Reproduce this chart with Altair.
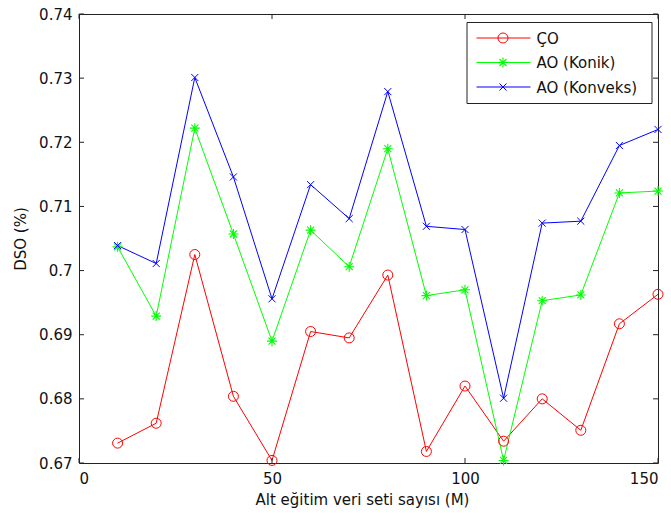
import altair as alt
import pandas as pd

# ---- data ----
m_values = [10, 20, 30, 40, 50, 60, 70, 80, 90, 100, 110, 120, 130, 140, 150]
co_values = [0.6731, 0.6762, 0.7025, 0.6804, 0.6704, 0.6905, 0.6895, 0.6993,
             0.6718, 0.6820, 0.6734, 0.6800, 0.6751, 0.6917, 0.6963]
konik_values = [0.7037, 0.6929, 0.7222, 0.7057, 0.6890, 0.7063, 0.7006, 0.7190,
                0.6961, 0.6970, 0.6704, 0.6953, 0.6962, 0.7121, 0.7124]
konveks_values = [0.7039, 0.7011, 0.7301, 0.7146, 0.6956, 0.7134, 0.7081, 0.7279,
                  0.7069, 0.7064, 0.6801, 0.7074, 0.7077, 0.7195, 0.7220]
series_names = ["ÇO", "AO (Konik)", "AO (Konveks)"]
series_colors = ["#FF0000", "#00FF00", "#0000FF"]
x_ticks = [0, 50, 100, 150]
y_ticks = [0.67, 0.68, 0.69, 0.70, 0.71, 0.72, 0.73, 0.74]
x_title = "Alt eğitim veri seti sayısı (M)"
y_title = "DSO (%)"

# ---- layout ----
W, H = 579, 449
FONT = "DejaVu Sans"
AXC = "#222222"

ASTERISK = "M0,-1L0,1M-1,0L1,0M-0.7,-0.7L0.7,0.7M-0.7,0.7L0.7,-0.7"
XMARK = "M-1,-1L1,1M-1,1L1,-1"
marker_shapes = ["circle", ASTERISK, XMARK]
marker_sizes = [100, 100, 50]
marker_widths = [1, 1.1, 1]

rows = []
for name, vals in zip(series_names, [co_values, konik_values, konveks_values]):
    for m, v in zip(m_values, vals):
        rows.append({"M": m, "DSO": v, "series": name})
df = pd.DataFrame(rows)

xscale = alt.Scale(domain=[0, 150], nice=False, zero=False)
yscale = alt.Scale(domain=[0.67, 0.74], nice=False, zero=False)

xaxis = alt.Axis(values=x_ticks, ticks=False, grid=False, domain=False,
                 labelPadding=8, labelFontSize=15, labelColor="#111",
                 title=x_title, titleFontSize=15, titleFontWeight="normal",
                 titleColor="#111", titleBaseline="alphabetic", titleY=41,
                 titleX=283)
yaxis = alt.Axis(values=y_ticks, ticks=False, grid=False, domain=False,
                 labelPadding=7, labelFontSize=15, labelColor="#111",
                 format=".2~f",
                 title=y_title, titleFontSize=15, titleFontWeight="normal",
                 titleColor="#111", titleBaseline="middle", titleX=-59,
                 titleAngle=270)

base = alt.Chart(df)
layers = []
for i, name in enumerate(series_names):
    sub = base.transform_filter(alt.datum.series == name)
    layers.append(
        sub.mark_line(color=series_colors[i], strokeWidth=1).encode(
            x=alt.X("M:Q", scale=xscale, axis=xaxis),
            y=alt.Y("DSO:Q", scale=yscale, axis=yaxis),
        )
    )
for i, name in enumerate(series_names):
    sub = base.transform_filter(alt.datum.series == name)
    layers.append(
        sub.mark_point(shape=marker_shapes[i], size=marker_sizes[i], filled=False,
                       stroke=series_colors[i], strokeWidth=marker_widths[i],
                       opacity=1, clip=False).encode(
            x=alt.X("M:Q", scale=xscale),
            y=alt.Y("DSO:Q", scale=yscale),
        )
    )

# inside ticks (MATLAB style box)
xt = alt.Chart(pd.DataFrame({"t": x_ticks}))
yt = alt.Chart(pd.DataFrame({"t": y_ticks}))
TL = 5
layers += [
    xt.mark_rule(color=AXC, strokeWidth=1).encode(
        x=alt.X("t:Q", scale=xscale), y=alt.value(H - TL), y2=alt.value(H)),
    xt.mark_rule(color=AXC, strokeWidth=1).encode(
        x=alt.X("t:Q", scale=xscale), y=alt.value(0), y2=alt.value(TL)),
    yt.mark_rule(color=AXC, strokeWidth=1).encode(
        y=alt.Y("t:Q", scale=yscale), x=alt.value(0), x2=alt.value(TL)),
    yt.mark_rule(color=AXC, strokeWidth=1).encode(
        y=alt.Y("t:Q", scale=yscale), x=alt.value(W - TL), x2=alt.value(W)),
]

# legend box
one = alt.Chart(alt.Data(values=[{}]))
LX0, LX1, LY0, LY1 = 388, 573, 8.5, 89.5
layers.append(
    one.mark_rect(fill="white", stroke=AXC, strokeWidth=1).encode(
        x=alt.value(LX0), x2=alt.value(LX1), y=alt.value(LY0), y2=alt.value(LY1))
)
row_y = [24, 48.5, 73]
for i, name in enumerate(series_names):
    ry = row_y[i]
    layers.append(
        one.mark_rule(color=series_colors[i], strokeWidth=1).encode(
            x=alt.value(397.5), x2=alt.value(451.5), y=alt.value(ry))
    )
    layers.append(
        one.mark_point(shape=marker_shapes[i], size=marker_sizes[i], filled=False,
                       stroke=series_colors[i], strokeWidth=marker_widths[i],
                       opacity=1).encode(
            x=alt.value(424), y=alt.value(ry))
    )
    layers.append(
        one.mark_text(text=name, align="left", baseline="middle", font=FONT,
                      fontSize=15, color="#111").encode(
            x=alt.value(457.5), y=alt.value(ry + 0.5))
    )

chart = alt.layer(*layers).properties(
    width=W, height=H,
    autosize=alt.AutoSizeParams(type="none"),
    padding={"left": 79, "top": 14, "right": 13, "bottom": 50},
    background="white",
).configure(font=FONT).configure_view(stroke=AXC, strokeWidth=1)

chart.save("out.html", embed_options={"renderer": "svg", "actions": False})
